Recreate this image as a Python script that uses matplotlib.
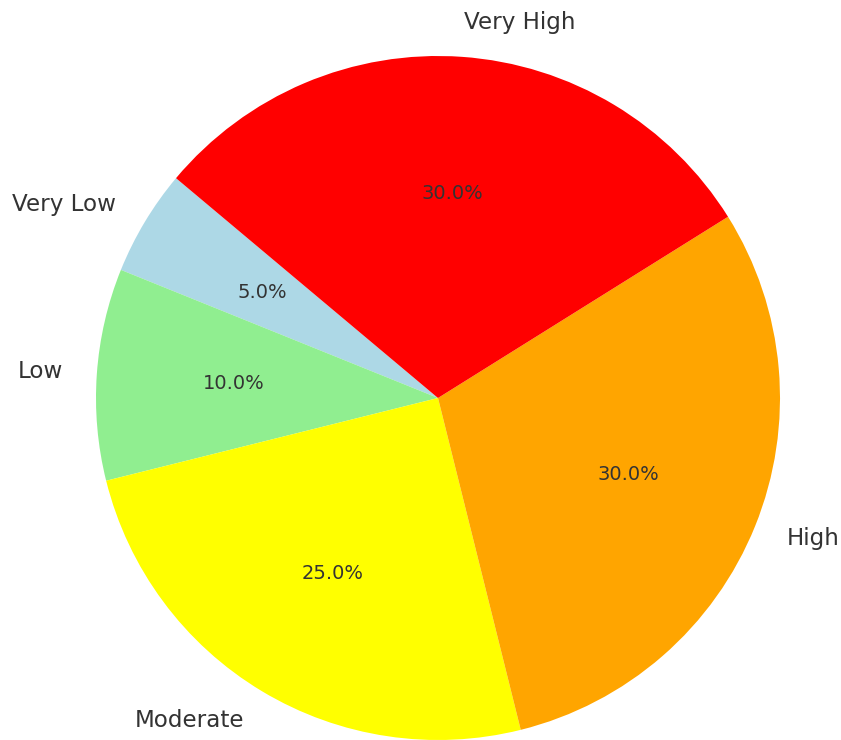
import matplotlib

matplotlib.use("Agg")
import matplotlib.pyplot as plt

labels = ["Very Low", "Low", "Moderate", "High", "Very High"]
shares = [5, 10, 25, 30, 30]
colors = ["lightblue", "lightgreen", "yellow", "orange", "red"]

W, H = 841, 740
fig = plt.figure(figsize=(W / 100, H / 100), dpi=100)

# pie centre and radius in pixels; axes spans +/-1.25 data units
cx, cy, radius = 438, 398, 342
side = 2.5 * radius
ax = fig.add_axes([(cx - side / 2) / W, (H - cy - side / 2) / H, side / W, side / H])

wedges, texts, autotexts = ax.pie(
    shares,
    labels=labels,
    colors=colors,
    autopct="%1.1f%%",
    startangle=140,
    textprops={"color": "#333333"},
)
for t in texts:
    t.set_fontsize(16.6)
for t in autotexts:
    t.set_fontsize(14)
ax.set_xlim(-1.25, 1.25)
ax.set_ylim(-1.25, 1.25)
ax.set_aspect("equal")

fig.savefig("out.png", dpi=100)
